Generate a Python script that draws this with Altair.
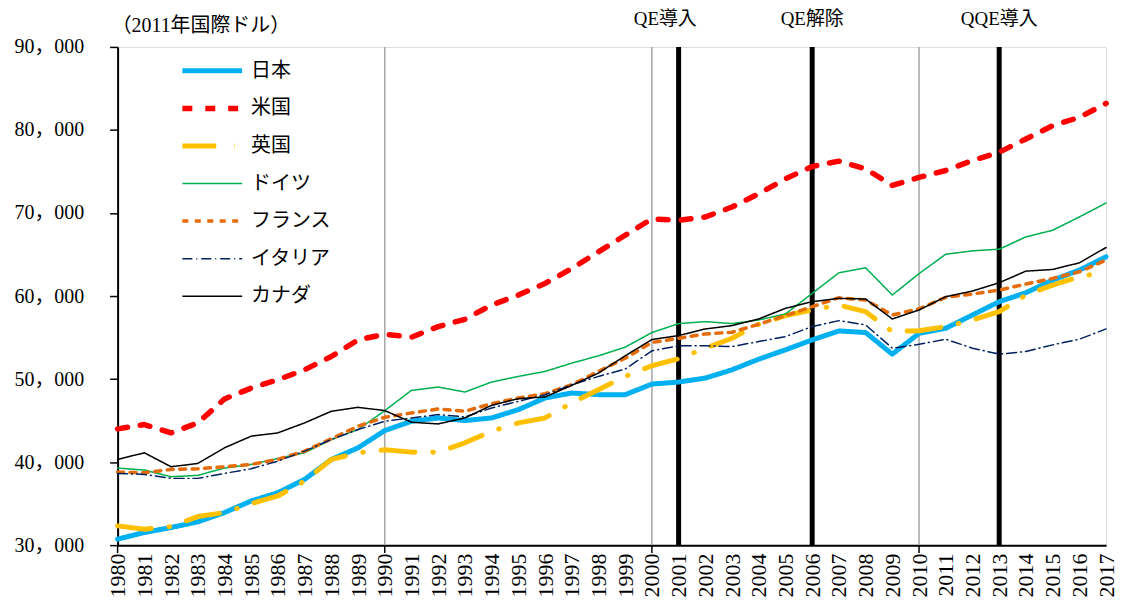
import altair as alt
import pandas as pd

FONT = "'Liberation Serif', 'Noto Sans CJK JP'"

years = list(range(1980, 2018))
countries = ["日本", "米国", "英国", "ドイツ", "フランス", "イタリア", "カナダ"]

japan = [30720, 31520, 32120, 32800, 33920, 35320, 36320, 37920, 40320, 41720,
         43800, 44920, 45320, 45000, 45320, 46320, 47720, 48320, 48120, 48120,
         49400, 49640, 50120, 51120, 52400, 53520, 54720, 55800, 55600, 53000,
         55500, 56120, 57720, 59320, 60400, 61920, 63120, 64720]
usa = [44000, 44520, 43520, 44720, 47600, 48920, 49920, 51120, 52720, 54720,
       55400, 55040, 56320, 57200, 58920, 60120, 61520, 63320, 65320, 67320,
       69300, 69120, 69520, 70720, 72320, 74120, 75600, 76240, 75320, 73320,
       74280, 75120, 76320, 77320, 78920, 80520, 81520, 83200]
uk = [32320, 31920, 32240, 33440, 33920, 35000, 35920, 37720, 40320, 41120,
      41480, 41200, 41200, 42320, 43720, 44720, 45320, 47120, 48720, 50320,
      51600, 52440, 53720, 54920, 56600, 57640, 58320, 58920, 58120, 55720,
      55820, 56320, 57120, 58120, 60120, 61320, 62320, 62920]
germany = [39280, 39040, 38240, 38400, 39280, 39720, 40440, 41120, 42720, 43920,
           46200, 48640, 49040, 48440, 49640, 50320, 50920, 51920, 52800, 53840,
           55600, 56680, 56920, 56680, 57120, 57840, 60320, 62800, 63400, 60120,
           62700, 65040, 65440, 65640, 67120, 67920, 69520, 71200]
france = [38800, 38720, 39120, 39200, 39440, 39720, 40320, 41320, 42800, 44320,
          45400, 45920, 46400, 46120, 47040, 47720, 48240, 49320, 50920, 52520,
          54400, 54920, 55440, 55640, 56600, 57640, 58720, 59800, 59520, 57720,
          58460, 59840, 60240, 60720, 61440, 62120, 62920, 64320]
italy = [38640, 38520, 38040, 38040, 38640, 39200, 40120, 41320, 42720, 43920,
         44920, 45320, 45720, 45440, 46520, 47320, 48120, 49320, 50320, 51200,
         53400, 54000, 54000, 53920, 54520, 55120, 56320, 57040, 56520, 53720,
         54180, 54800, 53720, 53000, 53320, 54120, 54800, 56040]
canada = [40320, 41120, 39440, 39840, 41720, 43120, 43520, 44720, 46120, 46600,
          46200, 44800, 44600, 45320, 46840, 47640, 47840, 49240, 50720, 52800,
          54760, 55240, 56040, 56440, 57240, 58520, 59320, 59720, 59640, 57240,
          58320, 59920, 60600, 61600, 63000, 63200, 64000, 65840]

series = [japan, usa, uk, germany, france, italy, canada]

colors = ["#00B0F0", "#FF0000", "#FFC000", "#00B050", "#E46C0A", "#002060", "#000000"]
dashes = [[1, 0], [10, 13], [34, 18, 0.5, 18], [1, 0], [6, 6.5], [10, 4, 1, 4], [1, 0]]
widths = [5, 5.5, 5, 1.5, 3.5, 1.5, 1.5]

decade_years = [1990, 2000, 2010]
tick_years = [1980, 1990, 2000, 2010]
policy_years = [2001, 2006, 2013]
policy_label_x = [2000.5, 2006, 2013]
policy_labels = ["QE導入", "QE解除", "QQE導入"]
unit_label = "（2011年国際ドル）"

rows = []
for c, vals in zip(countries, series):
    for yr, v in zip(years, vals):
        rows.append({"country": c, "year": yr, "value": v})
df = pd.DataFrame(rows)

xscale = alt.Scale(domain=[1980, 2017], nice=False, zero=False)
yscale = alt.Scale(domain=[30000, 90000], nice=False, zero=False)

xaxis = alt.Axis(
    values=years, labelAngle=270, labelFontSize=22, labelFont=FONT,
    labelColor="#000000", ticks=False, tickSize=0, labelPadding=8,
    domainColor="#000000", domainWidth=2, grid=False, title=None,
    labelOverlap=False, labelFlush=False, format="d")
yaxis = alt.Axis(
    values=[30000, 40000, 50000, 60000, 70000, 80000, 90000],
    labelExpr="replace(format(datum.value, ','), ',', '，')",
    labelFontSize=20, labelFont=FONT, labelColor="#000000",
    tickSize=8, tickColor="#000000", tickWidth=1.5, labelPadding=26,
    domainColor="#000000", domainWidth=2, grid=False, title=None)

def X():
    return alt.X("year:Q", scale=xscale, axis=xaxis)

gray = alt.Chart(pd.DataFrame({"year": decade_years})).mark_rule(
    color="#A6A6A6", strokeWidth=1.5
).encode(x=X())

ticks = alt.Chart(pd.DataFrame({"year": tick_years})).mark_rule(
    color="#000000", strokeWidth=1.5
).encode(x=X(), y=alt.value(500), y2=alt.value(508))

black = alt.Chart(pd.DataFrame({"year": policy_years})).mark_rule(
    color="#000000", strokeWidth=5
).encode(x=X())

legend = alt.Legend(
    title=None, orient="none", legendX=62, legendY=13, symbolType="stroke",
    symbolSize=3600, labelFontSize=20, labelFont=FONT, labelColor="#000000",
    clipHeight=22, rowPadding=15.7, labelOffset=6, padding=0)

lines = alt.Chart(df).mark_line(strokeCap="round", strokeJoin="round").encode(
    x=X(),
    y=alt.Y("value:Q", scale=yscale, axis=yaxis),
    color=alt.Color("country:N", scale=alt.Scale(domain=countries, range=colors), legend=legend),
    strokeDash=alt.StrokeDash("country:N", scale=alt.Scale(domain=countries, range=dashes), legend=legend),
    strokeWidth=alt.StrokeWidth("country:N", scale=alt.Scale(type="ordinal", domain=countries, range=widths), legend=legend),
)

qe = alt.Chart(pd.DataFrame({"year": policy_label_x, "label": policy_labels})).mark_text(
    fontSize=19, font=FONT, color="#000000", baseline="middle", align="center"
).encode(x=X(), y=alt.value(-28), text="label:N")

unit = alt.Chart(pd.DataFrame({"t": [unit_label]})).mark_text(
    fontSize=20, font=FONT, color="#000000", baseline="middle", align="left"
).encode(x=alt.value(-6), y=alt.value(-21), text="t:N")

chart = alt.layer(gray, black, ticks, lines, qe, unit).properties(
    width=992, height=500,
    padding={"left": 110, "top": 38, "right": 13, "bottom": 56},
    autosize=alt.AutoSizeParams(type="none"),
).configure_view(
    stroke="#000000", strokeWidth=1.5
).configure(background="white")

chart.save("out.html", embed_options={"renderer": "svg", "actions": False})
